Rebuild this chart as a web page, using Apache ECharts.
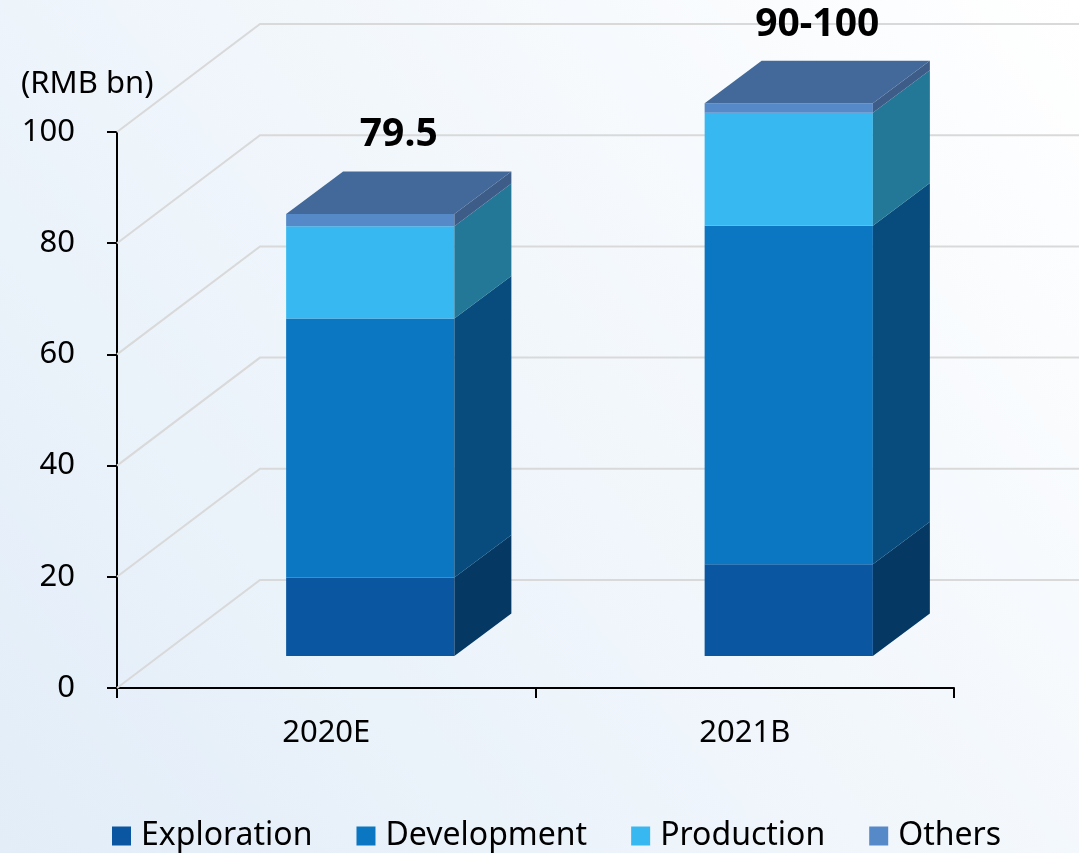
<!DOCTYPE html>
<html>
<head>
<meta charset="utf-8">
<script src="https://cdn.jsdelivr.net/npm/echarts@6/dist/echarts.min.js"></script>
<style>
  html, body { margin: 0; padding: 0; }
  #chart { width: 1079px; height: 853px; }
</style>
</head>
<body>
<div id="chart"></div>
<script>
// Capital expenditure breakdown, RMB bn
const categories = ['2020E', '2021B'];
const exploration = [14.1, 16.5];
const development = [46.6, 60.9];
const production = [16.6, 20.3];
const others = [2.2, 1.7];
const totalLabels = ['79.5', '90-100'];
const yTicks = [0, 20, 40, 60, 80, 100];

const FONT = '"Noto Sans", "Open Sans", sans-serif';

// Pseudo-3D geometry (pixels)
const WALL_DX = 143, WALL_DY = 108;   // depth of the back wall
const FRONT_DX = 44, FRONT_DY = 32;   // front face of bars sits this far in
const BAR_DX = 57, BAR_DY = 42.6;     // depth of each bar
const BAR_RATIO = 0.402;              // bar width / category band

const layers = [
  { name: 'Exploration', data: exploration, front: '#0a56a0', side: '#063864' },
  { name: 'Development', data: development, front: '#0b76c1', side: '#074c7d' },
  { name: 'Production',  data: production,  front: '#38b8f0', side: '#237898' },
  { name: 'Others',      data: others,      front: '#5689c8', side: '#3d5d88' }
];
const TOP_COLOR = '#43699a';

// cumulative bases for stacking
const bases = categories.map(() => 0);
const stacked = layers.map(layer => {
  return layer.data.map((v, i) => {
    const base = bases[i];
    bases[i] += v;
    return [i, base + v, base];
  });
});

function barRenderer(k) {
  const isTop = k === layers.length - 1;
  const layer = layers[k];
  return function (params, api) {
    const i = api.value(0);
    const top = api.value(1), base = api.value(2);
    const pTop = api.coord([i, top]);
    const pBase = api.coord([i, base]);
    const bw = api.size([1, 0])[0] * BAR_RATIO;
    const cx = pTop[0] + FRONT_DX;
    const x0 = cx - bw / 2, x1 = cx + bw / 2;
    const yt = pTop[1] - FRONT_DY, yb = pBase[1] - FRONT_DY;
    const children = [
      {
        type: 'rect',
        shape: { x: x0, y: yt, width: bw, height: yb - yt },
        style: { fill: layer.front }
      },
      {
        type: 'polygon',
        shape: { points: [[x1, yb], [x1 + BAR_DX, yb - BAR_DY], [x1 + BAR_DX, yt - BAR_DY], [x1, yt]] },
        style: { fill: layer.side }
      }
    ];
    if (isTop) {
      children.push({
        type: 'polygon',
        shape: { points: [[x0, yt], [x0 + BAR_DX, yt - BAR_DY], [x1 + BAR_DX, yt - BAR_DY], [x1, yt]] },
        style: { fill: TOP_COLOR }
      });
      children.push({
        type: 'text',
        style: {
          x: cx + BAR_DX / 2,
          y: yt - BAR_DY - 36,
          text: totalLabels[i],
          align: 'center',
          verticalAlign: 'middle',
          font: 'bold 39px ' + FONT,
          fill: '#000'
        }
      });
    }
    return { type: 'group', children: children };
  };
}

function wallRenderer(params, api) {
  const y = api.coord([0, api.value(1)])[1];
  const x = params.coordSys.x;
  return {
    type: 'polyline',
    shape: { points: [[x, y], [x + WALL_DX, y - WALL_DY], [api.getWidth(), y - WALL_DY]] },
    style: { stroke: '#d9d9d9', lineWidth: 2, fill: null }
  };
}

const chart = echarts.init(document.getElementById('chart'), null, { renderer: 'canvas' });

const series = [{
  type: 'custom',
  name: 'wall',
  silent: true,
  z: 1,
  renderItem: wallRenderer,
  data: yTicks.map(v => [0, v]),
  encode: { x: 0, y: 1 }
}].concat(layers.map((layer, k) => ({
  type: 'custom',
  name: layer.name,
  z: 2 + k,
  itemStyle: { color: layer.front },
  renderItem: barRenderer(k),
  data: stacked[k],
  encode: { x: 0, y: 1 }
})));

chart.setOption({
  animation: false,
  backgroundColor: new echarts.graphic.LinearGradient(0, 1, 1, 0, [
    { offset: 0, color: '#e2edf8' },
    { offset: 1, color: '#ffffff' }
  ]),
  textStyle: { fontFamily: FONT },
  title: {
    text: '(RMB bn)',
    left: 16,
    top: 64,
    textStyle: { fontSize: 31, fontWeight: 'normal', color: '#000', fontFamily: FONT }
  },
  grid: { left: 117, right: 125, top: 132, bottom: 165 },
  legend: {
    data: layers.map(l => l.name),
    left: 107,
    top: 815,
    icon: 'rect',
    itemWidth: 19,
    itemHeight: 19,
    itemGap: 44,
    textStyle: { fontSize: 32, color: '#000', fontFamily: FONT, padding: [0, 0, 0, 5] }
  },
  xAxis: {
    type: 'category',
    data: categories,
    axisLine: { lineStyle: { color: '#000', width: 2 } },
    axisTick: { show: true, length: 10, lineStyle: { color: '#000', width: 2 } },
    axisLabel: { fontSize: 31, color: '#000', margin: 30, fontFamily: FONT },
    splitLine: { show: false }
  },
  yAxis: {
    type: 'value',
    min: 0,
    max: 100,
    interval: 20,
    axisLine: { show: true, lineStyle: { color: '#000', width: 2 } },
    axisTick: { show: true, length: 10, lineStyle: { color: '#000', width: 2 } },
    axisLabel: { fontSize: 31, color: '#000', margin: 42, fontFamily: FONT },
    splitLine: { show: false }
  },
  series: series
});
</script>
</body>
</html>
